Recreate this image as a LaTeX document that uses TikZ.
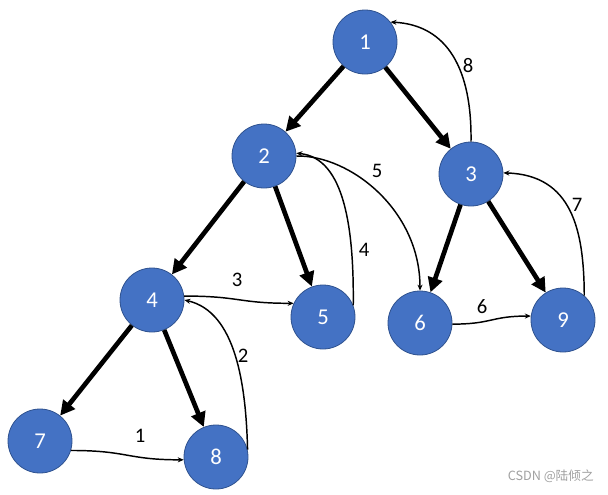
\documentclass[tikz,border=0pt]{standalone}
\usepackage{fontspec}
\setmainfont{Carlito}
\newfontfamily\cjk{Noto Sans CJK SC}
\usetikzlibrary{arrows.meta}
\definecolor{nodeblue}{HTML}{4472C4}
\definecolor{nodeedge}{HTML}{2F528F}
\definecolor{wmgray}{HTML}{A0A0A0}
\begin{document}
\begin{tikzpicture}[x=0.75pt,y=-0.75pt,
  vtx/.style={circle, fill=nodeblue, draw=nodeedge, line width=0.6pt, minimum size=48pt, inner sep=0pt, text=white, font=\fontsize{17}{17}\selectfont},
  tree/.style={line width=3.5pt, -{Triangle[length=11pt,width=11pt]}},
  back/.style={line width=1.1pt, -{Stealth[length=4.5pt,width=3.8pt]}},
  lbl/.style={font=\fontsize{15.5}{15.5}\selectfont, inner sep=0pt}
]
\useasboundingbox (0,0) rectangle (608,494);
% nodes
\node[vtx] (n1) at (365,42) {1};
\node[vtx] (n2) at (264,156) {2};
\node[vtx] (n3) at (471,174) {3};
\node[vtx] (n4) at (152,300) {4};
\node[vtx] (n5) at (323,317) {5};
\node[vtx] (n6) at (420,323) {6};
\node[vtx] (n7) at (40,441) {7};
\node[vtx] (n8) at (216,457) {8};
\node[vtx] (n9) at (563,320) {9};
% tree edges
\draw[tree] (n1) -- (n2);
\draw[tree] (n1) -- (n3);
\draw[tree] (n2) -- (n4);
\draw[tree] (n2) -- (n5);
\draw[tree] (n3) -- (n6);
\draw[tree] (n3) -- (n9);
\draw[tree] (n4) -- (n7);
\draw[tree] (n4) -- (n8);
% thin edges
\draw[back] (n7.-17) to[out=0,in=180,looseness=1.3] (n8.185);
\draw[back] (n8.13) .. controls (246,385) and (236,312) .. (n4.0);
\draw[back] (n4.7) to[out=0,in=180,looseness=1.3] (n5.155);
\draw[back] (n5.21) .. controls (354,230) and (345,158) .. (n2.5);
\draw[back] (n2.0) .. controls (350,155) and (420,210) .. (n6.90);
\draw[back] (n6.-2) to[out=0,in=180,looseness=1.3] (n9.173);
\draw[back] (n9.49) .. controls (584,230) and (572,175) .. (n3.2);
\draw[back] (n3.90) .. controls (472,70) and (448,25) .. (n1.38);
% labels
\node[lbl] (l1) at (140,436) {1};
\node[lbl] (l2) at (243,356) {2};
\node[lbl] (l3) at (237,280) {3};
\node[lbl] (l4) at (364,250) {4};
\node[lbl] (l5) at (377,171) {5};
\node[lbl] (l6) at (482,307) {6};
\node[lbl] (l7) at (577,205) {7};
\node[lbl] (l8) at (468,66) {8};
% watermark
\node[anchor=east, text=wmgray, inner sep=0pt, font=\cjk\fontsize{9.5}{10}\selectfont] (wm) at (594,476) {CSDN @陆倾之};
\end{tikzpicture}
\end{document}
